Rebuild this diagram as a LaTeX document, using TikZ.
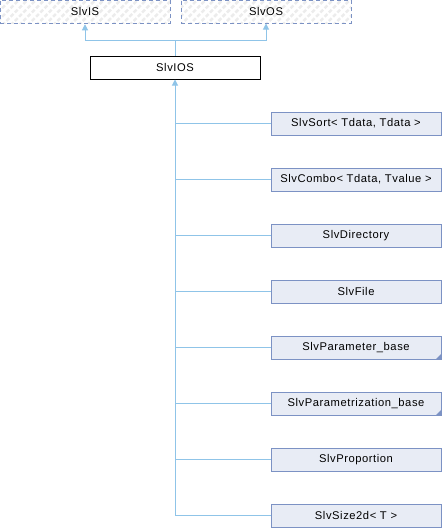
\documentclass[tikz,border=0pt]{standalone}
\usepackage{fontspec}
\setmainfont[LetterSpace=5]{Liberation Sans}
\usetikzlibrary{arrows.meta,patterns.meta}

\definecolor{edgeblue}{RGB}{143,196,232}
\definecolor{boxline}{RGB}{124,146,196}
\definecolor{boxfill}{RGB}{232,236,245}

\tikzset{
	cls/.style = {draw = boxline, fill = boxfill, line width = 1pt, minimum width = 170pt, minimum height = 23pt, inner sep = 0pt, font = \fontsize{11.2}{13}\selectfont},
	ext/.style = {cls, dashed, dash pattern = on 4pt off 3pt, pattern = {Lines[angle=45,distance=6pt,line width=2.5pt]}, pattern color = gray!15},
	cur/.style = {cls, draw = black, fill = white},
	edge/.style = {draw = edgeblue, line width = 1pt},
	inh/.style = {edge, -{Triangle[length=6pt,width=6pt]}}
}

\begin{document}
\begin{tikzpicture} [x = 1pt, y = -1pt]
	\useasboundingbox (0,0) rectangle (442,528);
	% base classes
	\node [ext] (is) at (85,11.5) {SlvIS};
	\node [ext] (os) at (266,11.5) {SlvOS};
	\node [cur] (ios) at (175,67.5) {SlvIOS};
	% derived classes
	\node [cls] (sort) at (356,123.5) {SlvSort< Tdata, Tdata >};
	\node [cls] (combo) at (356,179.5) {SlvCombo< Tdata, Tvalue >};
	\node [cls] (dir) at (356,235.5) {SlvDirectory};
	\node [cls] (file) at (356,291.5) {SlvFile};
	\node [cls] (param) at (356,347.5) {SlvParameter\_base};
	\node [cls] (pmtz) at (356,403.5) {SlvParametrization\_base};
	\node [cls] (prop) at (356,459.5) {SlvProportion};
	\node [cls] (size) at (356,515.5) {SlvSize2d< T >};
	% more derived classes
	\fill [boxline] (param.south east) -- ++(0,-6) -- ++(-6,6) -- cycle;
	\fill [boxline] (pmtz.south east) -- ++(0,-6) -- ++(-6,6) -- cycle;
	% inheritance
	\coordinate (join) at (175,40);
	\draw [edge] (ios.north) -- (join);
	\draw [inh] (join) -| (is.south);
	\draw [inh] (join) -| (os.south);
	\draw [inh] (size.west) -| (ios.south);
	\draw [edge] (sort.west) -- (sort.west -| ios.south);
	\draw [edge] (combo.west) -- (combo.west -| ios.south);
	\draw [edge] (dir.west) -- (dir.west -| ios.south);
	\draw [edge] (file.west) -- (file.west -| ios.south);
	\draw [edge] (param.west) -- (param.west -| ios.south);
	\draw [edge] (pmtz.west) -- (pmtz.west -| ios.south);
	\draw [edge] (prop.west) -- (prop.west -| ios.south);
\end{tikzpicture}
\end{document}
